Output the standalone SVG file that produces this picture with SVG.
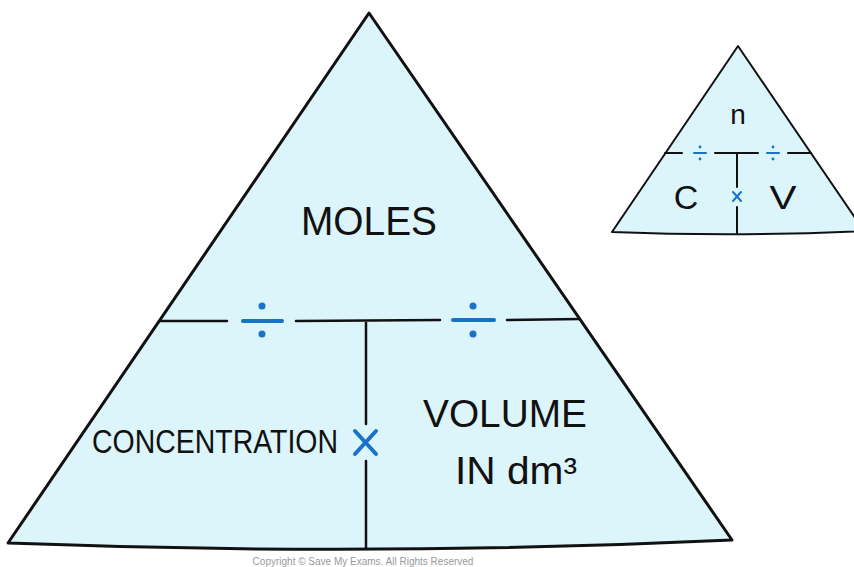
<svg xmlns="http://www.w3.org/2000/svg" width="854" height="567" viewBox="0 0 854 567">
<style>
.tri{fill:#dcf5fb;stroke:#111;stroke-width:3;stroke-linejoin:round}
.ln{stroke:#111;stroke-width:2.5;fill:none;stroke-linecap:round}
.lns{stroke:#111;stroke-width:2;fill:none;stroke-linecap:round}
.op{stroke:#1872c8;stroke-linecap:round;fill:none}
.dot{fill:#1872c8}
.t{font-family:"Liberation Sans","DejaVu Sans",sans-serif;fill:#111;text-anchor:middle}
</style>
<rect width="854" height="567" fill="#fff"/>
<g id="big-triangle">
<path class="tri" d="M369,13 L732,540 Q370,557 8,543 Z"/>
</g>
<g id="small-triangle">
<path class="tri" d="M738,46 L864,231 Q737,237 612,232 Z" style="stroke-width:2"/>
</g>
<g id="connectors">
<path class="ln" d="M160,321 L227,321 M296,321 L440,320 M507,320 L580,319 M366,321 L366,424 M366,461 L366,548"/>
<path class="lns" d="M665,153 L682,153 M715,153 L758,153 M788,153 L811,153 M737,153 L737,187 M737,207 L737,233"/>
</g>
<g id="big-ops">
<path class="op" stroke-width="4" d="M243,321 L282,321 M453,320 L494,320"/>
<circle class="dot" cx="262" cy="306" r="3.5"/><circle class="dot" cx="262" cy="334" r="3.5"/>
<circle class="dot" cx="473" cy="306" r="3.5"/><circle class="dot" cx="473" cy="334" r="3.5"/>
<path class="op" stroke-width="4" d="M355,431 L376,454 M376,431 L355,454"/>
</g>
<g id="small-ops">
<path class="op" stroke-width="2" d="M694,153 L706,153 M767,153 L779,153"/>
<circle class="dot" cx="700" cy="147" r="1.4"/><circle class="dot" cx="700" cy="159" r="1.4"/>
<circle class="dot" cx="773" cy="147" r="1.4"/><circle class="dot" cx="773" cy="159" r="1.4"/>
<path class="op" stroke-width="2" d="M733,192 L741,201 M741,192 L733,201"/>
</g>
<g id="moles"><text class="t" x="369" y="235" font-size="40" textLength="136" lengthAdjust="spacingAndGlyphs">MOLES</text></g>
<g id="concentration"><text class="t" x="215" y="453" font-size="33" textLength="246" lengthAdjust="spacingAndGlyphs">CONCENTRATION</text></g>
<g id="volume">
<text class="t" x="505" y="427" font-size="38" textLength="164" lengthAdjust="spacingAndGlyphs">VOLUME</text>
<text class="t" x="516" y="484" font-size="38" textLength="122" lengthAdjust="spacingAndGlyphs">IN dm³</text>
</g>
<g id="n"><text class="t" x="738" y="124" font-size="28">n</text></g>
<g id="c"><text class="t" x="686" y="209" font-size="34">C</text></g>
<g id="v"><text class="t" x="783" y="209" font-size="34" textLength="27" lengthAdjust="spacingAndGlyphs">V</text></g>
<text x="363" y="565" font-family="Liberation Sans, sans-serif" font-size="10" fill="#999" text-anchor="middle">Copyright © Save My Exams. All Rights Reserved</text>
</svg>
